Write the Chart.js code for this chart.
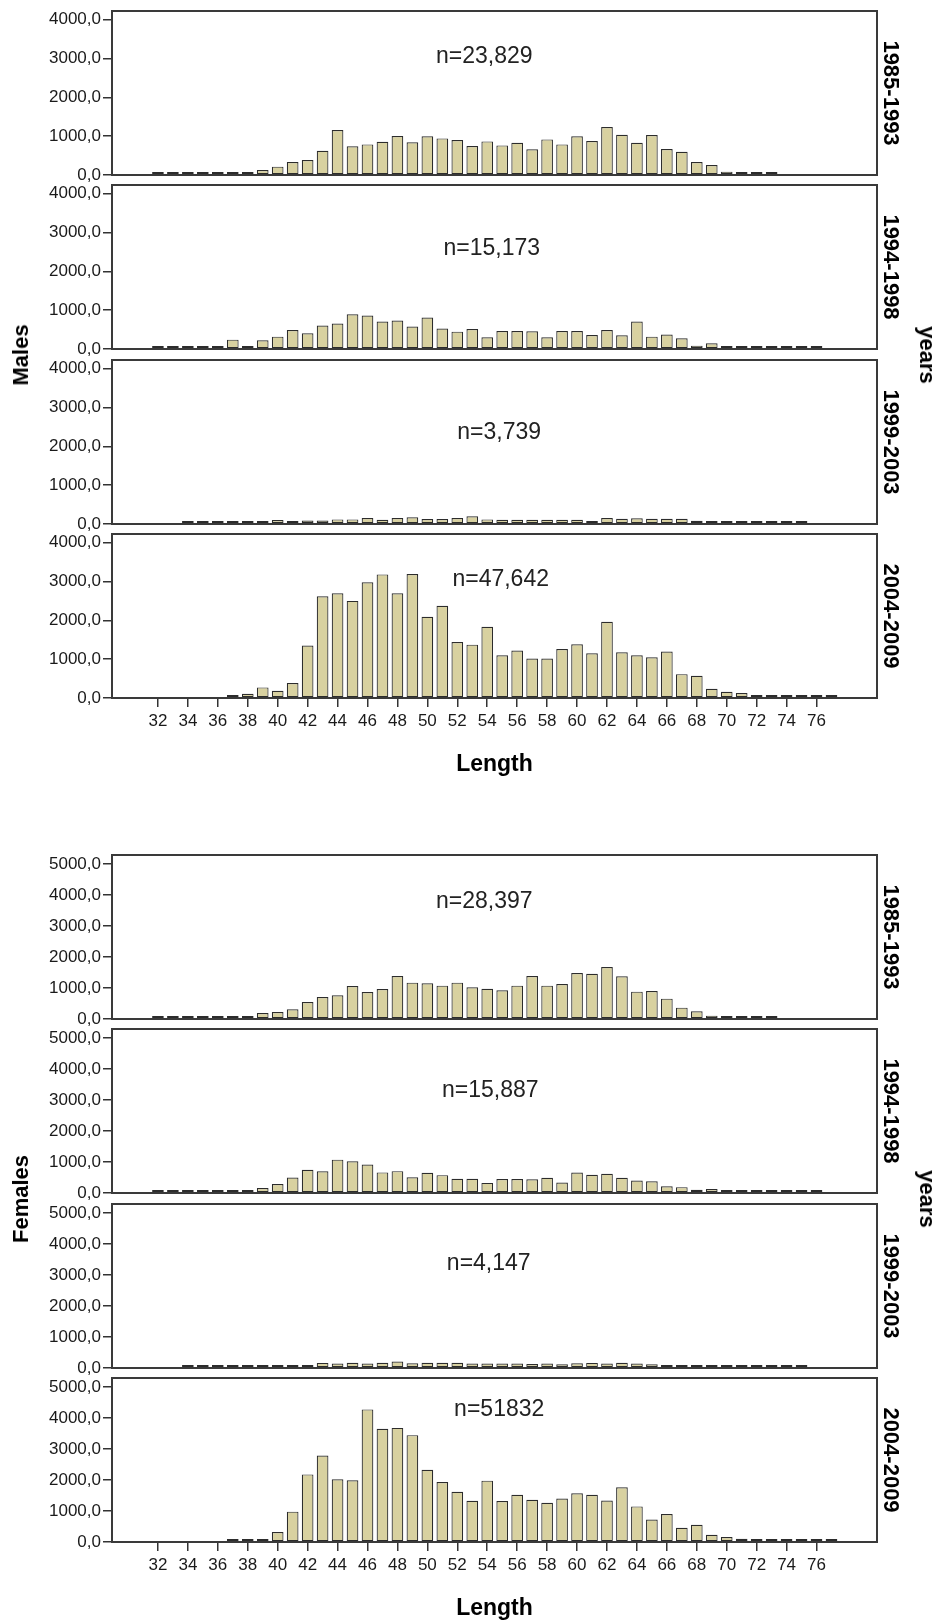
<!DOCTYPE html>
<html>
<head>
<meta charset="utf-8">
<title>Length distribution by period</title>
<script src="https://cdn.jsdelivr.net/npm/chart.js@4.4.0/dist/chart.umd.min.js"></script>
<style>
  html, body { margin: 0; padding: 0; background: #fff; }
  #page { position: relative; width: 941px; height: 1622px; overflow: hidden;
          font-family: "Liberation Sans", Arial, sans-serif; }
  #page canvas { position: absolute; left: 0; }
  .side { position: absolute; font-weight: bold; font-size: 22px; color: #000;
          white-space: nowrap; line-height: 1; }
</style>
</head>
<body>
<div id="page"></div>
<script>
// Length classes (one bar per class)
const lengths = [32, 33, 34, 35, 36, 37, 38, 39, 40, 41,
                 42, 43, 44, 45, 46, 47, 48, 49, 50, 51,
                 52, 53, 54, 55, 56, 57, 58, 59, 60, 61,
                 62, 63, 64, 65, 66, 67, 68, 69, 70, 71,
                 72, 73, 74, 75, 76, 77];
const lengthTicks = [32, 34, 36, 38, 40, 42, 44, 46, 48, 50, 52, 54,
                     56, 58, 60, 62, 64, 66, 68, 70, 72, 74, 76];
const periods = ["1985-1993", "1994-1998", "1999-2003", "2004-2009"];
const maleYTicks = [0, 1000, 2000, 3000, 4000];
const femaleYTicks = [0, 1000, 2000, 3000, 4000, 5000];

const maleCounts = ["n=23,829", "n=15,173", "n=3,739", "n=47,642"];
const femaleCounts = ["n=28,397", "n=15,887", "n=4,147", "n=51832"];

// Males, frequency per length class (null = no fish in that class)
const males1985 = [8, 8, 8, 8, 8, 10, 30, 130, 215, 335,
                   385, 625, 1156, 737, 788, 857, 1002, 840, 994, 942,
                   900, 745, 865, 762, 831, 660, 916, 788, 994, 874,
                   1233, 1036, 831, 1028, 668, 600, 334, 257, 86, 10,
                   10, 10, null, null, null, null];
const males1994 = [5, 5, 5, 5, 30, 240, 77, 224, 318, 490,
                   404, 602, 654, 895, 860, 705, 731, 576, 808, 525,
                   447, 516, 301, 465, 465, 456, 301, 465, 465, 361,
                   490, 353, 705, 318, 370, 275, 86, 146, 40, 40,
                   10, 10, 10, 10, 10, null];
const males1999 = [null, null, 10, 10, 10, 10, 15, 20, 100, 45,
                   90, 90, 118, 118, 155, 110, 155, 172, 127, 127,
                   155, 200, 118, 110, 110, 110, 110, 110, 110, 63,
                   155, 137, 145, 137, 137, 137, 82, 37, 15, 15,
                   15, 15, 15, 15, null, null];
const males2004 = [null, null, null, null, null, 30, 110, 273, 188, 384,
                   1348, 2618, 2695, 2499, 2977, 3181, 2695, 3190, 2090, 2371,
                   1441, 1373, 1834, 1100, 1220, 1015, 1015, 1262, 1382, 1151,
                   1962, 1177, 1100, 1049, 1194, 614, 571, 239, 162, 128,
                   15, 15, 15, 15, 15, 68];

// Females, frequency per length class (null = no fish in that class)
const females1985 = [8, 8, 8, 5, 5, 5, 54, 194, 226, 312,
                     548, 710, 763, 1065, 871, 968, 1387, 1172, 1150, 1075,
                     1172, 1022, 978, 925, 1075, 1387, 1075, 1129, 1484, 1462,
                     1677, 1376, 882, 903, 656, 366, 247, 108, 54, 8,
                     30, 8, null, null, null, null];
const females1994 = [5, 5, 5, 5, 40, 96, 85, 160, 288, 500,
                     750, 700, 1075, 1025, 920, 665, 705, 505, 650, 575,
                     460, 460, 325, 450, 450, 440, 490, 335, 660, 585,
                     620, 490, 400, 375, 220, 188, 105, 125, 42, 10,
                     10, 10, 10, 10, 10, null];
const females1999 = [null, null, 10, 10, 15, 35, 35, 50, 90, 80,
                     100, 165, 145, 170, 145, 170, 210, 155, 170, 170,
                     170, 145, 145, 145, 145, 128, 145, 120, 155, 165,
                     145, 170, 145, 120, 100, 64, 28, 10, 10, 10,
                     10, 10, 10, 10, null, null];
const females2004 = [null, null, null, null, null, 30, 30, 30, 319, 979,
                     2181, 2787, 2021, 1989, 4277, 3649, 3681, 3447, 2330, 1936,
                     1617, 1330, 1979, 1319, 1521, 1362, 1266, 1404, 1574, 1521,
                     1340, 1766, 1149, 723, 904, 457, 553, 234, 160, 106,
                     60, 15, 15, 15, 15, 15];

// ---- layout & style ----
const FONT = '"Liberation Sans", Arial, sans-serif';
const BAR_FILL = '#d8d1a0';
const BAR_EDGE = '#2c2c2c';
const FRAME = '#3a3a3a';
const INK = '#1a1a1a';
const X_MIN = 28.93, X_MAX = 80.04;
const PANEL_H = 164;      // frame height of one panel
const PANEL_STEP = 174.4; // distance between panel baselines
const PAD = 15;
const X_AXIS_H = 90;

const groups = [
  { title: 'Males', firstBase: 175, yMax: 4220, yTicks: maleYTicks, counts: maleCounts,
    series: [males1985, males1994, males1999, males2004],
    countAt: [[53.8, 3050], [54.3, 2580], [54.8, 2360], [54.9, 3050]] },
  { title: 'Females', firstBase: 1019, yMax: 5290, yTicks: femaleYTicks, counts: femaleCounts,
    series: [females1985, females1994, females1999, females2004],
    countAt: [[53.8, 3780], [54.2, 3300], [54.1, 3360], [54.8, 4280]] }
];

const page = document.getElementById('page');

const framePlugin = {
  id: 'panelFrame',
  afterDatasetsDraw(chart) {
    const { ctx, chartArea: a } = chart;
    ctx.save();
    ctx.strokeStyle = FRAME;
    ctx.lineWidth = 2;
    ctx.strokeRect(a.left, a.top, a.right - a.left, a.bottom - a.top);
    ctx.restore();
  }
};

const countPlugin = {
  id: 'countLabel',
  afterDraw(chart, args, opts) {
    if (!opts.text) return;
    const { ctx, scales } = chart;
    ctx.save();
    ctx.font = '23px ' + FONT;
    ctx.fillStyle = '#222';
    ctx.textAlign = 'center';
    ctx.textBaseline = 'middle';
    ctx.fillText(opts.text, scales.x.getPixelForValue(opts.at[0]), scales.y.getPixelForValue(opts.at[1]));
    ctx.restore();
  }
};

function makePanel(group, idx) {
  const showX = idx === 3;
  const base = group.firstBase + idx * PANEL_STEP;
  const top = base - PANEL_H;
  const h = Math.round(PANEL_H + PAD + (showX ? X_AXIS_H : PAD));
  const canvas = document.createElement('canvas');
  canvas.width = 941;
  canvas.height = h;
  canvas.style.width = '941px';
  canvas.style.height = h + 'px';
  canvas.style.top = (top - PAD) + 'px';
  page.appendChild(canvas);

  const values = group.series[idx];
  new Chart(canvas, {
    type: 'bar',
    data: {
      datasets: [{
        data: lengths.map((len, k) => ({ x: len, y: values[k] })),
        backgroundColor: BAR_FILL,
        borderColor: BAR_EDGE,
        borderWidth: 1.2,
        borderSkipped: false,
        minBarLength: 3,
        barPercentage: 0.78,
        categoryPercentage: 1
      }]
    },
    options: {
      responsive: false,
      animation: false,
      events: [],
      layout: { padding: { top: PAD, bottom: showX ? 0 : PAD, left: 0, right: 0 } },
      plugins: {
        legend: { display: false },
        tooltip: { enabled: false },
        countLabel: { text: group.counts[idx], at: group.countAt[idx] }
      },
      scales: {
        x: {
          type: 'linear',
          min: X_MIN, max: X_MAX,
          offset: false,
          display: showX,
          grid: { offset: false, drawOnChartArea: false, drawTicks: true, tickLength: 9,
                  color: '#333', lineWidth: 1.5 },
          border: { display: false },
          ticks: { font: { family: FONT, size: 17 }, color: INK, padding: 4,
                   maxRotation: 0, autoSkip: false, callback: v => String(v) },
          afterBuildTicks: s => { s.ticks = lengthTicks.map(v => ({ value: v })); },
          afterFit: s => { if (showX) s.height = X_AXIS_H; },
          title: { display: true, text: 'Length', color: '#000',
                   font: { family: FONT, size: 23, weight: 'bold' },
                   padding: { top: 0, bottom: 10 } }
        },
        y: {
          type: 'linear',
          position: 'left',
          min: 0, max: group.yMax,
          grid: { drawOnChartArea: false, drawTicks: true, tickLength: 9, color: '#333', lineWidth: 1.5 },
          border: { display: false },
          ticks: { font: { family: FONT, size: 17 }, color: INK, padding: 2,
                   callback: v => Number(v).toFixed(1).replace('.', ',') },
          afterBuildTicks: s => { s.ticks = group.yTicks.map(v => ({ value: v })); },
          afterFit: s => { s.width = 112; }
        },
        period: {
          type: 'linear',
          position: 'right',
          grid: { display: false },
          border: { display: false },
          ticks: { display: false },
          title: { display: true, text: periods[idx], color: '#000',
                   font: { family: FONT, size: 22, weight: 'bold' },
                   padding: { top: 38, bottom: 0 } },
          afterFit: s => { s.width = 64; }
        }
      }
    },
    plugins: [framePlugin, countPlugin]
  });
}

function sideLabel(text, cx, cy, angle) {
  const d = document.createElement('div');
  d.className = 'side';
  d.textContent = text;
  d.style.left = cx + 'px';
  d.style.top = cy + 'px';
  d.style.transform = 'translate(-50%, -50%) rotate(' + angle + 'deg)';
  page.appendChild(d);
}

groups.forEach(g => {
  for (let i = 0; i < 4; i++) makePanel(g, i);
  const mid = g.firstBase - PANEL_H + (3 * PANEL_STEP + PANEL_H) / 2;
  sideLabel(g.title, 21, mid, -90);
  sideLabel('years', 927, mid, 90);
});
</script>
</body>
</html>
